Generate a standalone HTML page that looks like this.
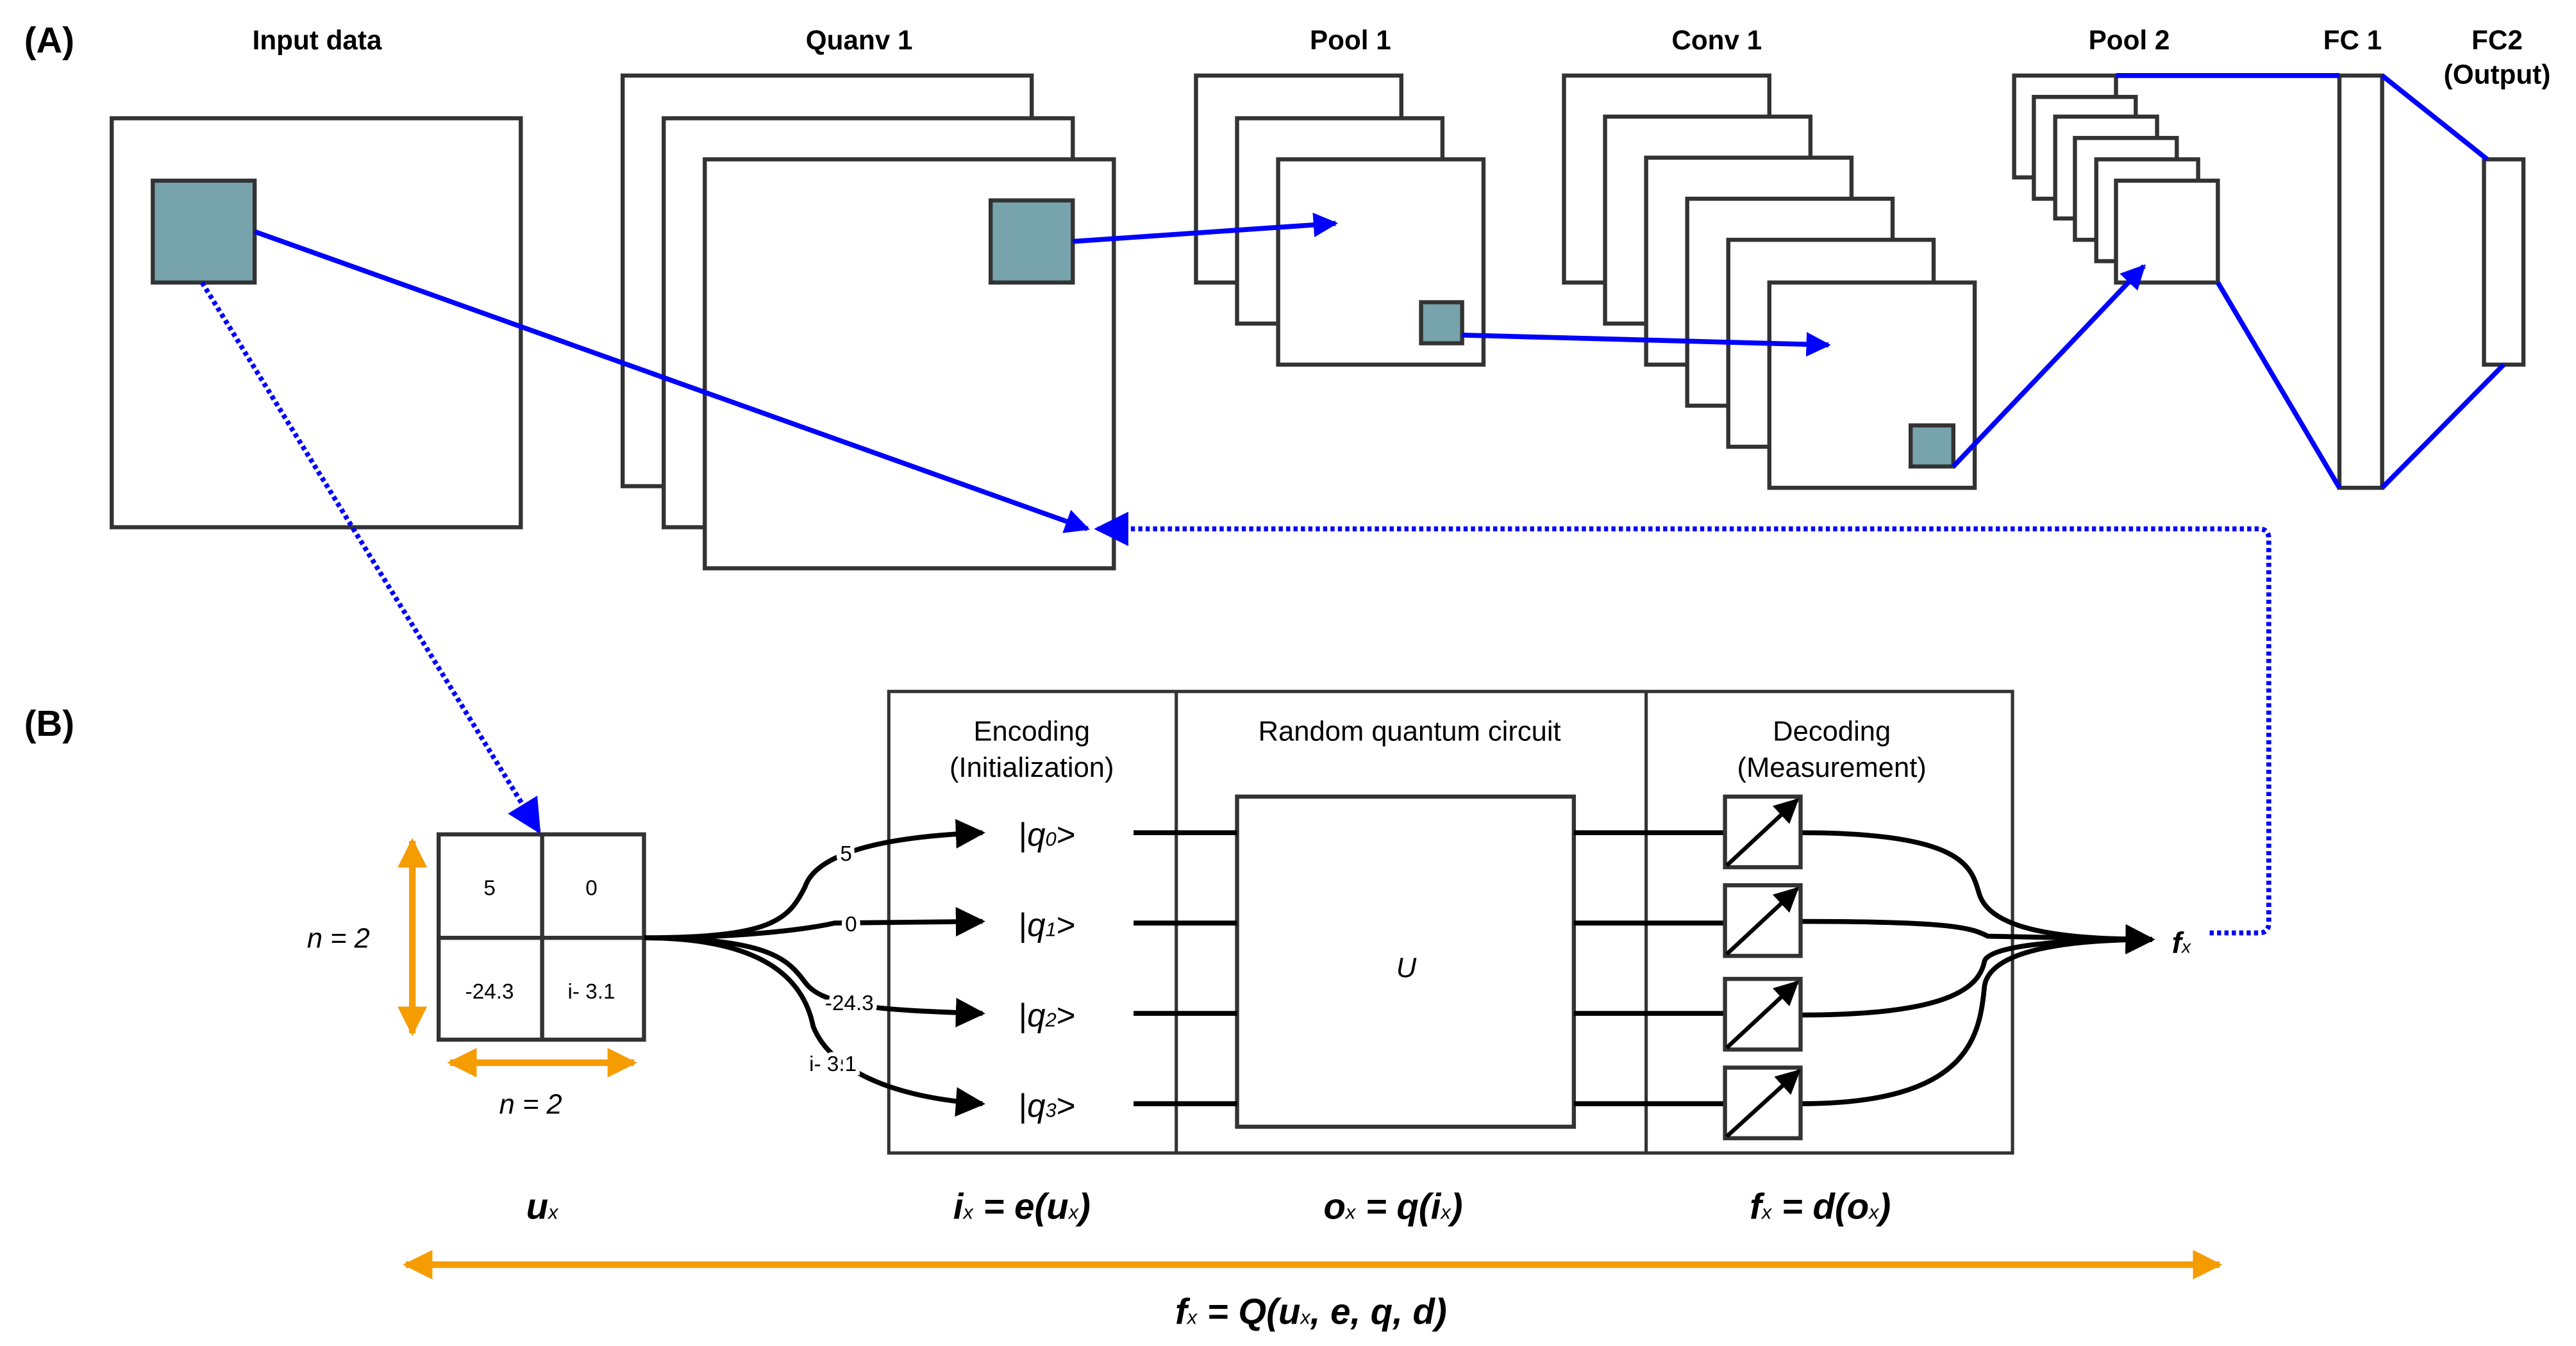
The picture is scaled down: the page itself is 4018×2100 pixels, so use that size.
<!DOCTYPE html>
<html><head><meta charset="utf-8"><style>html,body{margin:0;padding:0;background:#fff}svg{display:block}</style></head>
<body>
<svg width="4018" height="2100" viewBox="0 0 1568 819.5" xmlns="http://www.w3.org/2000/svg" font-family="Liberation Sans, sans-serif">
<defs>
<marker id="ab" viewBox="0 0 10 10" refX="9" refY="5" markerWidth="5" markerHeight="5" orient="auto-start-reverse" markerUnits="strokeWidth"><path d="M0,0L10,5L0,10z" fill="#0000ff"/></marker>
<marker id="ab2" viewBox="0 0 10 10" refX="9" refY="5" markerWidth="7" markerHeight="7" orient="auto-start-reverse" markerUnits="strokeWidth"><path d="M0,0L10,5L0,10z" fill="#0000ff"/></marker>
<marker id="ak" viewBox="0 0 10 10" refX="9" refY="5" markerWidth="6" markerHeight="6" orient="auto" markerUnits="strokeWidth"><path d="M0,0L10,5L0,10z" fill="#000"/></marker>
<marker id="ao" viewBox="0 0 10 10" refX="9" refY="5" markerWidth="4.5" markerHeight="5" orient="auto-start-reverse" markerUnits="strokeWidth"><path d="M0,0L10,5L0,10z" fill="#f59c00"/></marker>
</defs>
<g font-weight="bold" font-size="16.5" text-anchor="middle" fill="#000">
<text x="30" y="32" font-size="22">(A)</text>
<text x="30" y="448" font-size="22">(B)</text>
<text x="193" y="30">Input data</text>
<text x="523" y="30">Quanv 1</text>
<text x="822" y="30">Pool 1</text>
<text x="1045" y="30">Conv 1</text>
<text x="1296" y="30">Pool 2</text>
<text x="1432" y="30">FC 1</text>
<text x="1520" y="30">FC2</text>
<text x="1520" y="51">(Output)</text>
</g>
<g fill="#fff" stroke="#333" stroke-width="2.5">
<rect x="68" y="72" width="249" height="249"/>
<rect x="379" y="46" width="249" height="250"/>
<rect x="404" y="72" width="249" height="249"/>
<rect x="429" y="97" width="249" height="249"/>
<rect x="728" y="46" width="125" height="126"/>
<rect x="753" y="72" width="125" height="125"/>
<rect x="778" y="97" width="125" height="125"/>
<rect x="952" y="46" width="125" height="126"/>
<rect x="977" y="71" width="125" height="126"/>
<rect x="1002" y="96" width="125" height="126"/>
<rect x="1027" y="121" width="125" height="126"/>
<rect x="1052" y="146" width="125" height="126"/>
<rect x="1077" y="172" width="125" height="125"/>
<rect x="1226" y="46" width="62" height="62"/>
<rect x="1238" y="59" width="62" height="62"/>
<rect x="1251" y="71" width="62" height="62"/>
<rect x="1263" y="84" width="62" height="62"/>
<rect x="1276" y="97" width="62" height="62"/>
<rect x="1288" y="110" width="62" height="62"/>
<rect x="1424" y="46" width="26" height="251"/>
<rect x="1512" y="97" width="24" height="125"/>
</g>
<g fill="#77a3ad" stroke="#333" stroke-width="2.5">
<rect x="93" y="110" width="62" height="62"/>
<rect x="603" y="122" width="50" height="50"/>
<rect x="865" y="184" width="25" height="25"/>
<rect x="1163" y="259" width="26" height="25"/>
</g>
<g stroke="#0000ff" stroke-width="3" fill="none">
<line x1="155" y1="141" x2="662" y2="322" marker-end="url(#ab)"/>
<line x1="653" y1="147" x2="813" y2="136" marker-end="url(#ab)"/>
<line x1="890" y1="204" x2="1113" y2="210" marker-end="url(#ab)"/>
<line x1="1189" y1="284" x2="1305" y2="162" marker-end="url(#ab)"/>
<line x1="1288" y1="46" x2="1424" y2="46"/>
<line x1="1350" y1="172" x2="1424" y2="297"/>
<line x1="1450" y1="46" x2="1514" y2="97"/>
<line x1="1450" y1="297" x2="1524" y2="222"/>
<path d="M1345,568 H1375 Q1381,568 1381,562 V328 Q1381,322 1375,322 H668" stroke-dasharray="2.5,2" marker-end="url(#ab2)"/>
<line x1="123" y1="172" x2="328" y2="506" stroke-dasharray="2.5,2" marker-end="url(#ab2)"/>
</g>
<g fill="none" stroke="#333" stroke-width="2.5">
<rect x="267" y="508" width="125" height="125"/>
<line x1="330" y1="508" x2="330" y2="633"/>
<line x1="267" y1="571" x2="392" y2="571"/>
<rect x="541" y="421" width="684" height="281" stroke-width="2"/>
<line x1="716" y1="421" x2="716" y2="702" stroke-width="2"/>
<line x1="1002" y1="421" x2="1002" y2="702" stroke-width="2"/>
<rect x="753" y="485" width="205" height="201"/>
</g>
<g stroke="#f59c00" stroke-width="4" fill="none">
<line x1="251" y1="512" x2="251" y2="629" marker-start="url(#ao)" marker-end="url(#ao)"/>
<line x1="274" y1="647" x2="386" y2="647" marker-start="url(#ao)" marker-end="url(#ao)"/>
<line x1="247" y1="770" x2="1351" y2="770" marker-start="url(#ao)" marker-end="url(#ao)"/>
</g>
<g stroke="#000" stroke-width="3" fill="none">
<path d="M392,571 C470,571 480,560 490,540 C495,525 520,510 598,507" marker-end="url(#ak)"/>
<path d="M392,571 C450,571 490,566 508,562 L598,561" marker-end="url(#ak)"/>
<path d="M392,571 C470,571 480,585 490,598 C500,612 530,615 598,617" marker-end="url(#ak)"/>
<path d="M392,571 C470,571 490,600 495,625 C505,650 540,668 598,672" marker-end="url(#ak)"/>
<line x1="690" y1="507" x2="753" y2="507"/><line x1="690" y1="562" x2="753" y2="562"/>
<line x1="690" y1="617" x2="753" y2="617"/><line x1="690" y1="672" x2="753" y2="672"/>
<line x1="958" y1="507" x2="1050" y2="507"/><line x1="958" y1="562" x2="1050" y2="562"/>
<line x1="958" y1="617" x2="1050" y2="617"/><line x1="958" y1="672" x2="1050" y2="672"/>
<path d="M1096,507 C1200,507 1200,530 1205,545 C1212,565 1250,572 1310,572" marker-end="url(#ak)"/>
<path d="M1096,561 C1190,561 1200,565 1210,570 L1310,572" marker-end="url(#ak)"/>
<path d="M1096,618 C1190,618 1205,600 1208,585 C1212,575 1260,572 1310,572" marker-end="url(#ak)"/>
<path d="M1096,672 C1200,672 1205,630 1208,600 C1212,578 1260,572 1310,572" marker-end="url(#ak)"/>
</g>
<g font-size="13" text-anchor="middle" fill="#000">
<text x="298" y="545">5</text><text x="360" y="545">0</text>
<text x="298" y="608">-24.3</text><text x="360" y="608">i-  3.1</text>
</g>
<g font-size="13" text-anchor="middle" fill="#000" stroke="#fff" stroke-width="5" paint-order="stroke">
<text x="515" y="524">5</text><text x="518" y="567">0</text>
<text x="517" y="615">-24.3</text><text x="507" y="652">i-  3.1</text>
</g>
<g font-size="17" text-anchor="middle" fill="#000">
<text x="206" y="577" font-style="italic">n = 2</text>
<text x="323" y="678" font-style="italic">n = 2</text>
<text x="628" y="451">Encoding</text><text x="628" y="473">(Initialization)</text>
<text x="858" y="451">Random quantum circuit</text>
<text x="1115" y="451">Decoding</text><text x="1115" y="473">(Measurement)</text>
<text x="856" y="595" font-style="italic">U</text>
</g>
<g font-size="20" fill="#000">
<text x="620" y="515">|<tspan font-style="italic">q<tspan font-size="12">0</tspan></tspan>&gt;</text>
<text x="620" y="570">|<tspan font-style="italic">q<tspan font-size="12">1</tspan></tspan>&gt;</text>
<text x="620" y="625">|<tspan font-style="italic">q<tspan font-size="12">2</tspan></tspan>&gt;</text>
<text x="620" y="680">|<tspan font-style="italic">q<tspan font-size="12">3</tspan></tspan>&gt;</text>
</g>
<g fill="#fff" stroke="#333" stroke-width="2.5">
<rect x="1050" y="485" width="46" height="43"/>
<rect x="1050" y="539" width="46" height="43"/>
<rect x="1050" y="596" width="46" height="43"/>
<rect x="1050" y="650" width="46" height="43"/>
</g>
<g stroke="#000" stroke-width="2.5" marker-end="url(#ak)">
<line x1="1051" y1="527" x2="1094" y2="487"/>
<line x1="1051" y1="581" x2="1094" y2="541"/>
<line x1="1051" y1="638" x2="1094" y2="598"/>
<line x1="1051" y1="692" x2="1095" y2="652"/>
</g>
<g font-weight="bold" font-style="italic" font-size="22" fill="#000" text-anchor="middle">
<text x="1322" y="580" font-size="18" text-anchor="start">f<tspan font-size="11" font-weight="normal">x</tspan></text>
<text x="330" y="742">u<tspan font-size="12" font-weight="normal">x</tspan></text>
<text x="622" y="742">i<tspan font-size="12" font-weight="normal">x</tspan> = e(u<tspan font-size="12" font-weight="normal">x</tspan>)</text>
<text x="848" y="742">o<tspan font-size="12" font-weight="normal">x</tspan> = q(i<tspan font-size="12" font-weight="normal">x</tspan>)</text>
<text x="1108" y="742">f<tspan font-size="12" font-weight="normal">x</tspan> = d(o<tspan font-size="12" font-weight="normal">x</tspan>)</text>
<text x="798" y="806">f<tspan font-size="12" font-weight="normal">x</tspan> = Q(u<tspan font-size="12" font-weight="normal">x</tspan>, e, q, d)</text>
</g>
</svg>
</body></html>
